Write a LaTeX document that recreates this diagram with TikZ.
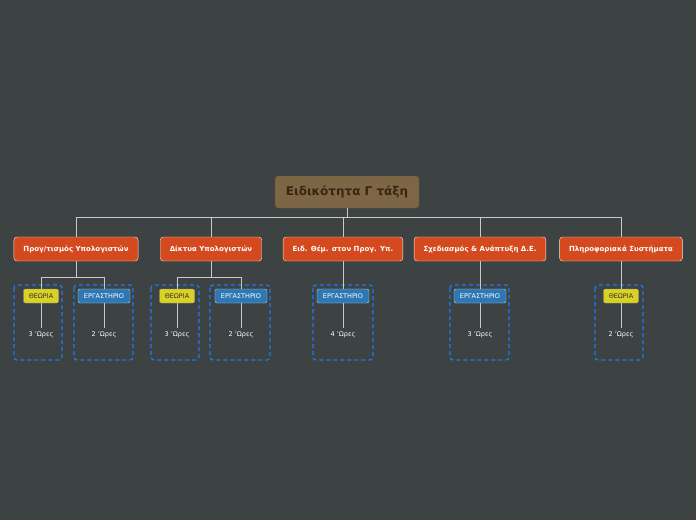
\documentclass[tikz,border=0pt]{standalone}
\usepackage{fontspec}
\setmainfont{DejaVu Sans}
\usetikzlibrary{positioning}
\definecolor{bgc}{HTML}{3D4343}
\definecolor{rootc}{HTML}{7D6645}
\definecolor{roottx}{HTML}{3A2510}
\definecolor{topicc}{HTML}{D44A1E}
\definecolor{theoc}{HTML}{D9D124}
\definecolor{labc}{HTML}{2D78B4}
\definecolor{grpc}{HTML}{1F78F0}
\definecolor{linec}{HTML}{C8C8C8}
\tikzset{
    rootbox/.style={draw=rootc!80!black, fill=rootc, rounded corners=3pt, minimum width=144pt, minimum height=32pt, text=roottx, font=\bfseries\fontsize{12}{14}\selectfont},
    topicbox/.style={draw=white!85!topicc, fill=topicc, rounded corners=3pt, minimum height=24pt, text=white, font=\bfseries\fontsize{7}{8}\selectfont, inner xsep=9.5pt},
    theobox/.style={draw=black!40, fill=theoc, rounded corners=2pt, minimum height=14pt, minimum width=35pt, text=black!80, font=\fontsize{6.5}{7}\selectfont},
    labbox/.style={draw=white!70!labc, fill=labc, rounded corners=2pt, minimum height=14pt, minimum width=52pt, text=white, font=\fontsize{6.5}{7}\selectfont},
    hours/.style={text=white!80, font=\fontsize{6.5}{7}\selectfont},
    grp/.style={draw=grpc, dash pattern=on 4pt off 3pt, line width=1.2pt, rounded corners=3pt},
    conn/.style={draw=linec, line width=0.8pt}
}
\newcommand{\leaf}[5]{
    \node[#2] (#1) at (#3, 296) {#4};
    \node[hours] (#1-h) at (#3, 335) {#5};
    \draw[conn] (#1) -- (#1-h);
}
\begin{document}
\begin{tikzpicture}[x=1pt, y=-1pt]
    \fill[bgc] (0,0) rectangle (696,520);
    \useasboundingbox (0,0) rectangle (696,520);
    % group frames
    \draw[grp] (14,285) rectangle (62,360);
    \draw[grp] (74,285) rectangle (133,360);
    \draw[grp] (151,285) rectangle (199,360);
    \draw[grp] (210,285) rectangle (270,360);
    \draw[grp] (313,285) rectangle (373,360);
    \draw[grp] (450,285) rectangle (509,360);
    \draw[grp] (595,285) rectangle (643,360);
    % main topic
    \node[rootbox] (root) at (347,192) {Ειδικότητα Γ τάξη};
    \node[topicbox] (prog) at (76,249) {Προγ/τισμός Υπολογιστών};
    \node[topicbox] (net) at (211,249) {Δίκτυα Υπολογιστών};
    \node[topicbox] (eid) at (343,249) {Ειδ. Θέμ. στον Προγ. Υπ.};
    \node[topicbox] (sxed) at (480,249) {Σχεδιασμός \& Ανάπτυξη Δ.Ε.};
    \node[topicbox] (plir) at (621,249) {Πληροφοριακά Συστήματα};
    \coordinate (bus) at (347,217);
    \foreach \t in {prog, net, eid, sxed, plir}
        \draw[conn] (root.south) -- (bus) -| (\t.north);
    % leaves
    \leaf{progt}{theobox}{41}{ΘΕΩΡΙΑ}{3 'Ωρες}
    \leaf{progl}{labbox}{104}{ΕΡΓΑΣΤΗΡΙΟ}{2 'Ωρες}
    \leaf{nett}{theobox}{177}{ΘΕΩΡΙΑ}{3 'Ωρες}
    \leaf{netl}{labbox}{241}{ΕΡΓΑΣΤΗΡΙΟ}{2 'Ωρες}
    \leaf{eidl}{labbox}{343}{ΕΡΓΑΣΤΗΡΙΟ}{4 'Ωρες}
    \leaf{sxedl}{labbox}{480}{ΕΡΓΑΣΤΗΡΙΟ}{3 'Ωρες}
    \leaf{plirt}{theobox}{621}{ΘΕΩΡΙΑ}{2 'Ωρες}
    \coordinate (progbus) at (76,277);
    \coordinate (netbus) at (211,277);
    \draw[conn]
    (prog.south) -- (progbus) -| (progt.north)
    (progbus) -| (progl.north)
    (net.south) -- (netbus) -| (nett.north)
    (netbus) -| (netl.north)
    (eid.south) -- (eidl.north)
    (sxed.south) -- (sxedl.north)
    (plir.south) -- (plirt.north);
\end{tikzpicture}
\end{document}
